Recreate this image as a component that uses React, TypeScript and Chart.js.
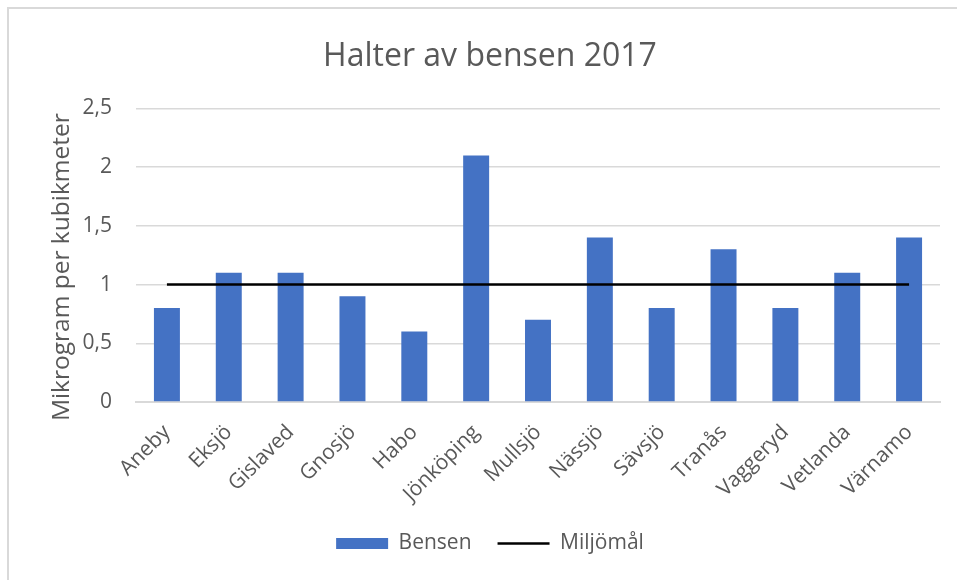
import React, { useEffect, useRef } from "react";
import { Chart, registerables } from "chart.js";

Chart.register(...registerables);

const TITLE = "Halter av bensen 2017";
const Y_TITLE = "Mikrogram per kubikmeter";
const CATEGORIES = [
  "Aneby", "Eksjö", "Gislaved", "Gnosjö", "Habo", "Jönköping", "Mullsjö",
  "Nässjö", "Sävsjö", "Tranås", "Vaggeryd", "Vetlanda", "Värnamo",
];
const BENSEN = [0.8, 1.1, 1.1, 0.9, 0.6, 2.1, 0.7, 1.4, 0.8, 1.3, 0.8, 1.1, 1.4];
const MILJOMAL = [1, 1, 1, 1, 1, 1, 1, 1, 1, 1, 1, 1, 1];
const SERIES_NAMES = ["Bensen", "Miljömål"];
const Y_MIN = 0;
const Y_MAX = 2.5;
const Y_STEP = 0.5;

const FONT = "'Open Sans', 'Noto Sans', sans-serif";
const TEXT = "#595959";
const GRID = "#d9d9d9";
const BLUE = "#4472C4";

const yTitlePlugin = {
  id: "yTitleText",
  afterDraw(chart: any) {
    const { ctx, chartArea } = chart;
    ctx.save();
    ctx.fillStyle = TEXT;
    ctx.font = `24.5px ${FONT}`;
    ctx.textAlign = "center";
    ctx.textBaseline = "middle";
    ctx.translate(chartArea.left - 74, (chartArea.top + chartArea.bottom) / 2 + 12);
    ctx.rotate(-Math.PI / 2);
    ctx.fillText(Y_TITLE, 0, 0);
    ctx.restore();
  },
};

export default function App() {
  const ref = useRef<HTMLCanvasElement | null>(null);

  useEffect(() => {
    const canvas = ref.current;
    if (!canvas) return;
    const chart = new Chart(canvas, {
      type: "bar",
      data: {
        labels: CATEGORIES,
        datasets: [
          {
            type: "bar",
            label: SERIES_NAMES[0],
            data: BENSEN,
            backgroundColor: BLUE,
            borderWidth: 0,
            categoryPercentage: 1,
            barPercentage: 0.42,
            order: 2,
          },
          {
            type: "line",
            label: SERIES_NAMES[1],
            data: MILJOMAL,
            borderColor: "#000000",
            backgroundColor: "#000000",
            borderWidth: 2.5,
            pointRadius: 0,
            pointHoverRadius: 0,
            fill: false,
            order: 1,
          },
        ],
      },
      plugins: [yTitlePlugin],
      options: {
        responsive: false,
        animation: false,
        layout: { padding: { left: 31, right: 31, top: 0, bottom: 16 } },
        plugins: {
          tooltip: { enabled: false },
          title: {
            display: true,
            text: TITLE,
            color: TEXT,
            font: { family: FONT, size: 32, weight: "normal" },
            padding: { top: 29, bottom: 32 },
          },
          legend: {
            position: "bottom",
            labels: {
              color: TEXT,
              font: { family: FONT, size: 21 },
              usePointStyle: true,
              pointStyleWidth: 52,
              boxHeight: 11,
              padding: 26,
              sort: (a: any, b: any) =>
                SERIES_NAMES.indexOf(a.text) - SERIES_NAMES.indexOf(b.text),
              generateLabels: (c: any) => {
                const items = Chart.defaults.plugins.legend.labels.generateLabels(c);
                return items.map((it: any) => {
                  const isBar = it.text === SERIES_NAMES[0];
                  return {
                    ...it,
                    pointStyle: isBar ? "rect" : "line",
                    fillStyle: isBar ? BLUE : "#000000",
                    strokeStyle: isBar ? BLUE : "#000000",
                    lineWidth: isBar ? 0 : 2.5,
                    fontColor: TEXT,
                  };
                });
              },
            },
          },
        },
        scales: {
          x: {
            grid: { display: false, drawTicks: false },
            border: { display: true, color: GRID, width: 2 },
            ticks: {
              color: TEXT,
              font: { family: FONT, size: 21 },
              minRotation: 45,
              maxRotation: 45,
              autoSkip: false,
              padding: 18,
            },
            afterFit: (s: any) => {
              s.height = 105;
            },
          },
          y: {
            min: Y_MIN,
            max: Y_MAX,
            grid: { color: GRID, lineWidth: 1.5, drawTicks: false },
            border: { display: false },
            ticks: {
              stepSize: Y_STEP,
              color: TEXT,
              font: { family: FONT, size: 21 },
              padding: 24,
              callback: (v: any) => String(v).replace(".", ","),
            },
            title: { display: false },
            afterFit: (s: any) => {
              s.width = 96;
            },
          },
        },
      },
    });
    return () => chart.destroy();
  }, []);

  return (
    <div
      style={{
        position: "fixed",
        left: 7,
        top: 7,
        width: 950,
        height: 573,
        overflow: "hidden",
        borderLeft: `2px solid ${GRID}`,
        borderTop: `2px solid ${GRID}`,
        background: "#ffffff",
      }}
    >
      <canvas ref={ref} width={962} height={571} style={{ display: "block", width: 962, height: 571 }} />
    </div>
  );
}
